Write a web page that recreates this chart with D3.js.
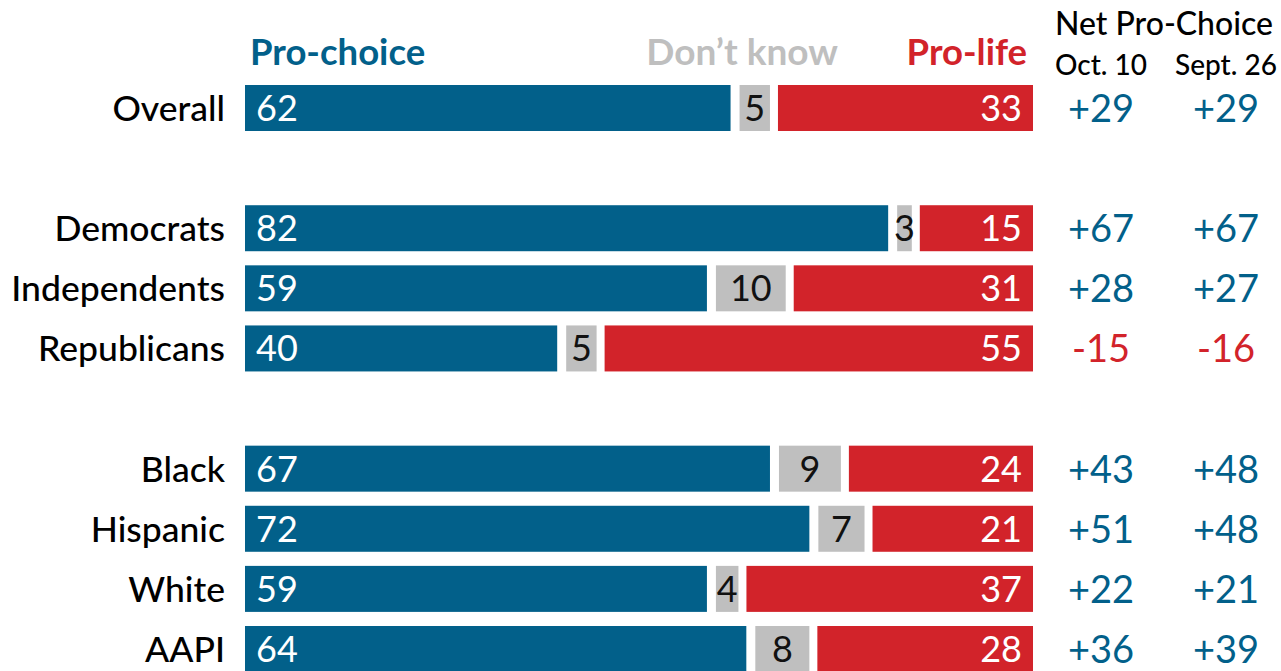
<!DOCTYPE html>
<html>
<head>
<meta charset="utf-8">
<script src="https://cdn.jsdelivr.net/npm/d3@7"></script>
<style>
  body { margin: 0; background: #fff; }
  svg { display: block; font-family: Lato, "Open Sans", sans-serif; }
</style>
</head>
<body>
<svg id="chart" width="1281" height="671"></svg>
<script>
// values
var groups = ["Overall", "Democrats", "Independents", "Republicans", "Black", "Hispanic", "White", "AAPI"];
var slots = [0, 2, 3, 4, 6, 7, 8, 9];   // blank rows between the groups
var proChoice = [62, 82, 59, 40, 67, 72, 59, 64];
var dontKnow = [5, 3, 10, 5, 9, 7, 4, 8];
var proLife = [33, 15, 31, 55, 24, 21, 37, 28];
var netOct = [29, 67, 28, -15, 43, 51, 22, 36];
var netSept = [29, 67, 27, -16, 48, 48, 21, 39];
var seriesNames = ["Pro-choice", "Don\u2019t know", "Pro-life"];
var netTitle = "Net Pro-Choice";
var netDates = ["Oct. 10", "Sept. 26"];

var blue = "#02608a", red = "#d2232a", grey = "#bfbfbf";

var svg = d3.select("#chart");

var x = d3.scaleLinear().domain([0, 100]).range([245, 1033]);
var y = d3.scaleLinear().domain([0, 9]).range([85, 626]);
var barH = 46;
var colX = [1101, 1226];

var rows = groups.map(function(g, i) {
    return {name: g, slot: slots[i], pc: proChoice[i], dk: dontKnow[i], pl: proLife[i],
            oct: netOct[i], sept: netSept[i]};
});

var row = svg.selectAll("g.row")
    .data(rows)
    .enter().append("g")
    .attr("class", "row")
    .attr("transform", function(d) { return "translate(0," + y(d.slot) + ")"; });

row.append("text")
    .attr("x", 225).attr("y", barH / 2 + 13)
    .attr("text-anchor", "end")
    .attr("font-size", 35.5).attr("font-weight", 500)
    .attr("fill", "#000")
    .text(function(d) { return d.name; });

// pro-choice segment
row.append("rect")
    .attr("x", x(0))
    .attr("width", function(d) { return x(d.pc) - x(0) - 3; })
    .attr("height", barH)
    .attr("fill", blue);

// don't know segment
row.append("rect")
    .attr("x", function(d) { return x(d.pc) + 6; })
    .attr("width", function(d) { return Math.max(x(d.pc + d.dk) - x(d.pc) - 9, 2); })
    .attr("height", barH)
    .attr("fill", grey);

// pro-life segment
row.append("rect")
    .attr("x", function(d) { return x(d.pc + d.dk) + 5; })
    .attr("width", function(d) { return x(100) - x(d.pc + d.dk) - 5; })
    .attr("height", barH)
    .attr("fill", red);

row.append("text")
    .attr("x", x(0) + 11).attr("y", barH / 2 + 13)
    .attr("font-size", 36).attr("fill", "#fff")
    .text(function(d) { return d.pc; });

row.append("text")
    .attr("x", function(d) { return (x(d.pc) + 6 + x(d.pc + d.dk) - 3) / 2; })
    .attr("y", barH / 2 + 13)
    .attr("text-anchor", "middle")
    .attr("font-size", 36).attr("fill", "#111")
    .text(function(d) { return d.dk; });

row.append("text")
    .attr("x", x(100) - 11).attr("y", barH / 2 + 13)
    .attr("text-anchor", "end")
    .attr("font-size", 36).attr("fill", "#fff")
    .text(function(d) { return d.pl; });

var fmt = function(v) { return (v > 0 ? "+" : "") + v; };

row.append("text")
    .attr("x", colX[0]).attr("y", barH / 2 + 14)
    .attr("text-anchor", "middle")
    .attr("font-size", 38)
    .attr("fill", function(d) { return d.oct < 0 ? red : blue; })
    .text(function(d) { return fmt(d.oct); });

row.append("text")
    .attr("x", colX[1]).attr("y", barH / 2 + 14)
    .attr("text-anchor", "middle")
    .attr("font-size", 38)
    .attr("fill", function(d) { return d.sept < 0 ? red : blue; })
    .text(function(d) { return fmt(d.sept); });

// series headers
svg.append("text")
    .attr("x", 250).attr("y", 65)
    .attr("font-size", 36.5).attr("font-weight", 700)
    .attr("fill", blue)
    .text(seriesNames[0]);

svg.append("text")
    .attr("x", 838).attr("y", 65)
    .attr("text-anchor", "end")
    .attr("font-size", 37).attr("font-weight", 700)
    .attr("fill", grey)
    .text(seriesNames[1]);

svg.append("text")
    .attr("x", 1027).attr("y", 65)
    .attr("text-anchor", "end")
    .attr("font-size", 36.5).attr("font-weight", 700)
    .attr("fill", red)
    .text(seriesNames[2]);

svg.append("text")
    .attr("x", 1164).attr("y", 35)
    .attr("text-anchor", "middle")
    .attr("font-size", 32).attr("font-weight", 500)
    .attr("fill", "#000")
    .text(netTitle);

svg.selectAll("text.date")
    .data(netDates)
    .enter().append("text")
    .attr("class", "date")
    .attr("x", function(d, i) { return colX[i]; })
    .attr("y", 75)
    .attr("text-anchor", "middle")
    .attr("font-size", 28).attr("font-weight", 500)
    .attr("fill", "#000")
    .text(function(d) { return d; });
</script>
</body>
</html>
